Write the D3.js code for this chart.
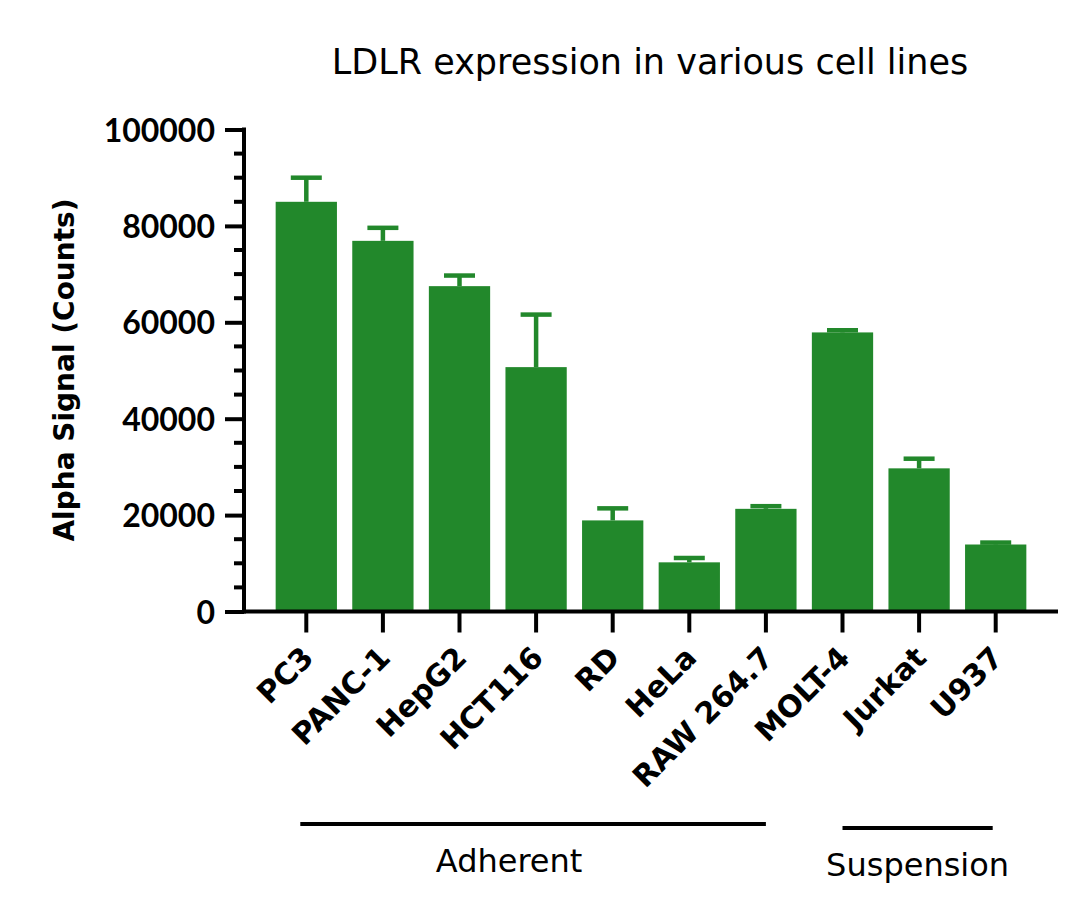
<!DOCTYPE html>
<html lang="en">
<head>
<meta charset="UTF-8">
<title>LDLR expression in various cell lines</title>
<script src="https://d3js.org/d3.v7.min.js"></script>
<style>
  body { margin: 0; background: #fff; }
  svg { display: block; font-family: "DejaVu Sans", sans-serif; }
</style>
</head>
<body>
<svg id="chart" width="1080" height="924"></svg>
<script>
// data
const cellLines = ["PC3", "PANC-1", "HepG2", "HCT116", "RD", "HeLa", "RAW 264.7", "MOLT-4", "Jurkat", "U937"];
const signal = [85000, 76900, 67500, 50700, 18900, 10200, 21300, 57900, 29700, 13900];
const errorUp = [5000, 2700, 2200, 10900, 2500, 900, 550, 450, 2000, 400];
const yTicks = [0, 20000, 40000, 60000, 80000, 100000];
const groups = [
  { name: "Adherent", first: "PC3", last: "RAW 264.7" },
  { name: "Suspension", first: "MOLT-4", last: "U937" }
];

const green = "#22882b";
const svg = d3.select("#chart");

const x = d3.scaleBand()
  .domain(cellLines)
  .range([268, 1034])
  .paddingInner(0.2)
  .paddingOuter(0.1);

const y = d3.scaleLinear()
  .domain([0, 100000])
  .range([611.5, 129.5]);

const axisLeftX = 244;

// title
svg.append("text")
  .attr("x", 650)
  .attr("y", 74)
  .attr("text-anchor", "middle")
  .attr("font-size", 35)
  .text("LDLR expression in various cell lines");

// bars
svg.selectAll("rect.bar")
  .data(cellLines)
  .join("rect")
  .attr("class", "bar")
  .attr("x", d => x(d))
  .attr("width", x.bandwidth())
  .attr("y", (d, i) => y(signal[i]))
  .attr("height", (d, i) => y(0) - y(signal[i]))
  .attr("fill", green);

// error bars (upper only)
const err = svg.append("g").attr("stroke", green).attr("stroke-width", 4.5);
cellLines.forEach((d, i) => {
  const cx = x(d) + x.bandwidth() / 2;
  err.append("line")
    .attr("x1", cx).attr("x2", cx)
    .attr("y1", y(signal[i])).attr("y2", y(signal[i] + errorUp[i]));
  err.append("line")
    .attr("x1", cx - 15.5).attr("x2", cx + 15.5)
    .attr("y1", y(signal[i] + errorUp[i])).attr("y2", y(signal[i] + errorUp[i]));
});

// y axis
const yAxis = svg.append("g")
  .attr("transform", `translate(${axisLeftX},0)`)
  .call(d3.axisLeft(y).tickValues(yTicks).tickSize(19).tickSizeOuter(0).tickPadding(10).tickFormat(d3.format("d")));
yAxis.select(".domain").attr("stroke-width", 4).attr("d", `M0,${y(0) + 2}V${y(100000) - 2}`);
yAxis.selectAll(".tick line").attr("stroke-width", 4);
yAxis.selectAll(".tick text")
  .attr("font-size", 32)
  .attr("font-weight", "bold")
  .attr("font-family", "Lato, sans-serif")
  .attr("fill", "#000")
  .attr("dy", "0.36em");

// minor ticks every 5000
const minor = d3.range(5000, 100000, 5000).filter(v => v % 20000 !== 0);
svg.append("g")
  .selectAll("line")
  .data(minor)
  .join("line")
  .attr("x1", axisLeftX - 10).attr("x2", axisLeftX)
  .attr("y1", d => y(d)).attr("y2", d => y(d))
  .attr("stroke", "#000")
  .attr("stroke-width", 4);

// y axis title
svg.append("text")
  .attr("transform", `translate(74,370) rotate(-90)`)
  .attr("text-anchor", "middle")
  .attr("font-size", 28)
  .attr("font-weight", "bold")
  .text("Alpha Signal (Counts)");

// x axis
const xAxis = svg.append("g")
  .attr("transform", `translate(0,${y(0)})`)
  .call(d3.axisBottom(x).tickSize(21).tickSizeOuter(0).tickFormat(""));
xAxis.select(".domain").attr("stroke-width", 4).attr("d", `M${axisLeftX - 2},0H1058`);
xAxis.selectAll(".tick line").attr("stroke-width", 4);

svg.append("g")
  .selectAll("text")
  .data(cellLines)
  .join("text")
  .attr("transform", d => `translate(${x(d) + x.bandwidth() / 2 + 9},${y(0) + 48}) rotate(-45)`)
  .attr("text-anchor", "end")
  .attr("font-size", 30)
  .attr("font-weight", "bold")
  .text(d => d);

// group brackets
groups.forEach((g, i) => {
  const x1 = x(g.first) + x.bandwidth() / 2 - (i === 0 ? 6 : 0);
  const x2 = x(g.last) + x.bandwidth() / 2 - (i === 0 ? 0 : 3);
  const ly = i === 0 ? 824 : 828;
  svg.append("line")
    .attr("x1", x1).attr("x2", x2)
    .attr("y1", ly).attr("y2", ly)
    .attr("stroke", "#000")
    .attr("stroke-width", 4);
  svg.append("text")
    .attr("x", (x1 + x2) / 2 - (i === 0 ? 24 : 0))
    .attr("y", ly + 48)
    .attr("text-anchor", "middle")
    .attr("font-size", 32)
    .text(g.name);
});
</script>
</body>
</html>
